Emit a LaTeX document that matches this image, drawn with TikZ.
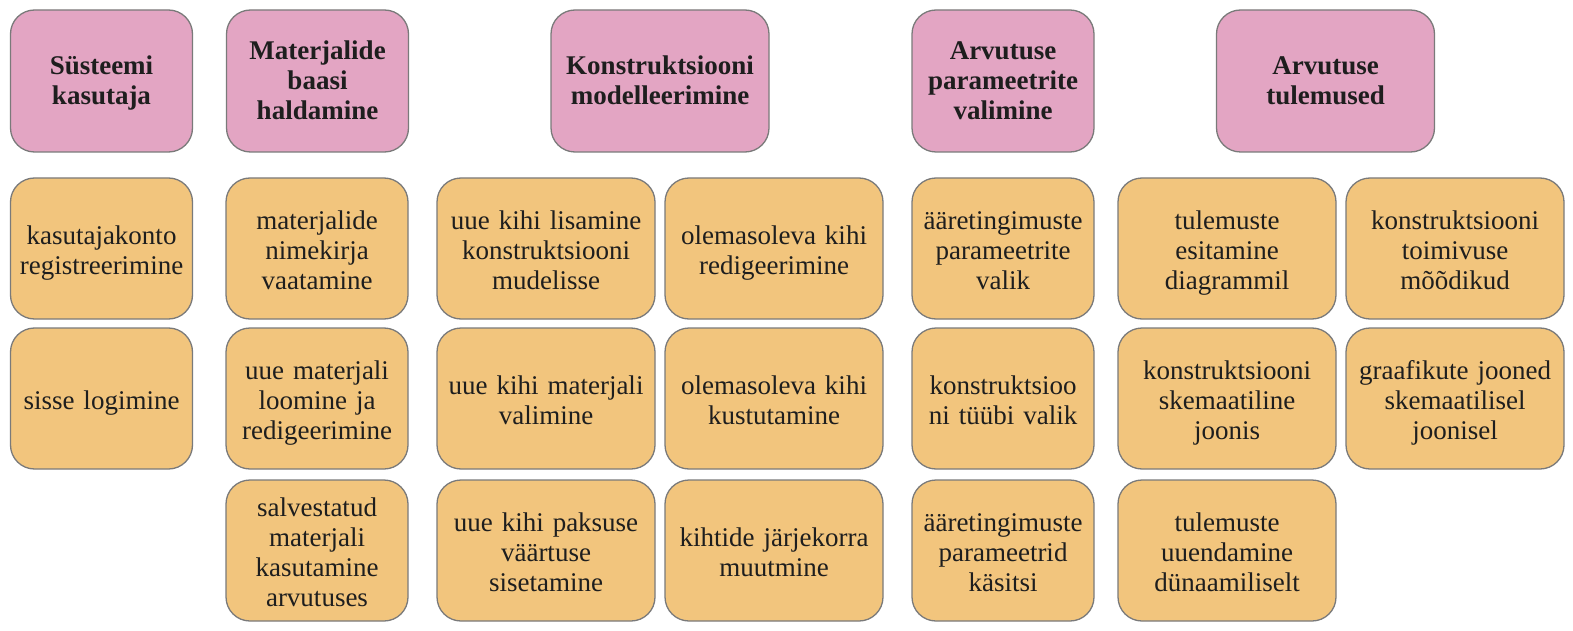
\documentclass[tikz,border=0pt]{standalone}
\usepackage{fontspec}
\setmainfont{Liberation Serif}
\definecolor{hdrpink}{HTML}{E3A5C3}
\definecolor{itemorange}{HTML}{F2C57D}
\definecolor{boxedge}{HTML}{7A7A7A}
\definecolor{txt}{HTML}{1E1E1E}
\tikzset{
  basebox/.style={draw=boxedge, line width=1.3pt, rounded corners=24pt, align=center,
    text=txt, inner sep=2pt, font=\fontsize{27}{30}\selectfont,
    execute at end node={\rule[-6.5pt]{0pt}{0pt}}},
  hdr/.style={basebox, fill=hdrpink, minimum height=142pt, font=\fontsize{27}{30}\selectfont\bfseries,
    execute at begin node={\rule{0pt}{23.5pt}}},
  item/.style={basebox, fill=itemorange, minimum height=141pt,
    execute at begin node={\rule{0pt}{27.5pt}}},
  nw/.style={minimum width=182pt, text width=176pt},
  ww/.style={minimum width=218pt, text width=212pt},
}
\begin{document}
\begin{tikzpicture}[x=1pt,y=-1pt]
\useasboundingbox (0,0) rectangle (1573,631);
% headers
\node[hdr,nw] (h1) at (101.5,81) {Süsteemi\\kasutaja};
\node[hdr,nw] (h2) at (317.5,81) {Materjalide\\baasi\\haldamine};
\node[hdr,ww] (h3) at (660,81) {Konstruktsiooni\\modelleerimine};
\node[hdr,nw] (h4) at (1003,81) {Arvutuse\\parameetrite\\valimine};
\node[hdr,ww] (h5) at (1325.5,81) {Arvutuse\\tulemused};
% column 1
\node[item,nw] (a1) at (101.5,248.5) {kasutajakonto\\registreerimine};
\node[item,nw] (a2) at (101.5,398.5) {sisse logimine};
% column 2
\node[item,nw] (b1) at (317,248.5) {materjalide\\nimekirja\\vaatamine};
\node[item,nw] (b2) at (317,398.5) {uue materjali\\loomine ja\\redigeerimine};
\node[item,nw] (b3) at (317,550.5) {salvestatud\\materjali\\kasutamine\\arvutuses};
% column 3
\node[item,ww] (c1) at (546,248.5) {uue kihi lisamine\\konstruktsiooni\\mudelisse};
\node[item,ww] (c2) at (546,398.5) {uue kihi materjali\\valimine};
\node[item,ww] (c3) at (546,550.5) {uue kihi paksuse\\väärtuse\\sisetamine};
\node[item,ww] (d1) at (774,248.5) {olemasoleva kihi\\redigeerimine};
\node[item,ww] (d2) at (774,398.5) {olemasoleva kihi\\kustutamine};
\node[item,ww] (d3) at (774,550.5) {kihtide järjekorra\\muutmine};
% column 4
\node[item,nw] (e1) at (1003,248.5) {ääretingimuste\\parameetrite\\valik};
\node[item,nw] (e2) at (1003,398.5) {konstruktsioo\\ni tüübi valik};
\node[item,nw] (e3) at (1003,550.5) {ääretingimuste\\parameetrid\\käsitsi};
% column 5
\node[item,ww] (f1) at (1227,248.5) {tulemuste\\esitamine\\diagrammil};
\node[item,ww] (f2) at (1227,398.5) {konstruktsiooni\\skemaatiline\\joonis};
\node[item,ww] (f3) at (1227,550.5) {tulemuste\\uuendamine\\dünaamiliselt};
\node[item,ww] (g1) at (1455,248.5) {konstruktsiooni\\toimivuse\\mõõdikud};
\node[item,ww] (g2) at (1455,398.5) {graafikute jooned\\skemaatilisel\\joonisel};
\end{tikzpicture}
\end{document}
